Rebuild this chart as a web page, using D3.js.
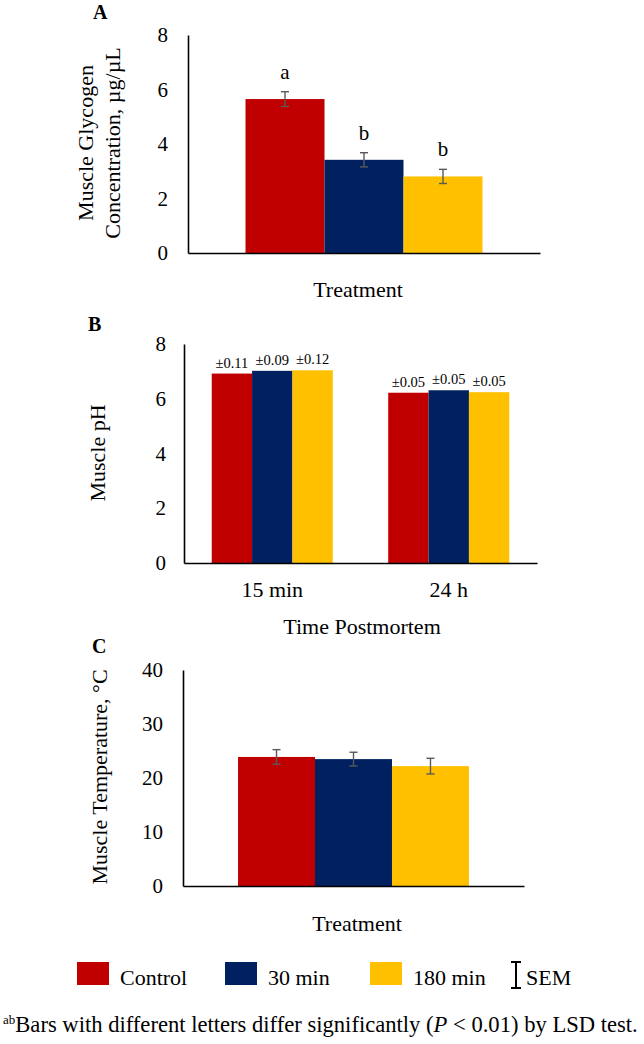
<!DOCTYPE html>
<html>
<head>
<meta charset="utf-8">
<script src="https://cdn.jsdelivr.net/npm/d3@7"></script>
<style>
  html, body { margin: 0; padding: 0; background: #fff; }
  svg { display: block; }
  svg text { font-family: "Liberation Serif", serif !important; }
</style>
</head>
<body>
<svg id="chart" width="644" height="1044" font-family="Liberation Serif"></svg>
<script>
// ---- data ----
const treatments = ["Control", "30 min", "180 min"];

// Panel A: muscle glycogen
const glycogenMean = [5.65, 3.42, 2.81];
const glycogenSEM = [0.27, 0.26, 0.26];
const glycogenLetters = ["a", "b", "b"];
const glycogenTicks = [0, 2, 4, 6, 8];

// Panel B: muscle pH
const phTimes = ["15 min", "24 h"];
const phControl = [6.92, 6.22];
const ph30min = [7.02, 6.31];
const ph180min = [7.04, 6.24];
const phSemControl = ["±0.11", "±0.05"];
const phSem30min = ["±0.09", "±0.05"];
const phSem180min = ["±0.12", "±0.05"];
const phTicks = [0, 2, 4, 6, 8];

// Panel C: muscle temperature
const tempMean = [23.9, 23.5, 22.2];
const tempSEM = [1.35, 1.27, 1.45];
const tempTicks = [0, 10, 20, 30, 40];

// ---- styles ----
const barColors = ["#C00000", "#002060", "#FFC000"];
const errColor = "#595959";
const FONT = "Liberation Serif";

const svg = d3.select("#chart");
const color = d3.scaleOrdinal().domain(treatments).range(barColors);

function yAxis(g, y, ticks, pad) {
  g.call(d3.axisLeft(y).tickValues(ticks).tickSize(0).tickSizeOuter(0).tickPadding(pad).tickFormat(d3.format("d")));
  g.attr("font-family", FONT);
  g.select(".domain").attr("stroke", "#000").attr("stroke-width", 1.6);
  g.selectAll("text").attr("font-size", 21).attr("fill", "#000").attr("font-family", FONT);
}
function xLine(parent, x0, x1, yPos) {
  const xs = d3.scaleLinear().domain([0, 1]).range([x0, x1]);
  const g = parent.append("g").attr("transform", `translate(0,${yPos})`)
    .call(d3.axisBottom(xs).tickValues([]).tickSize(0).tickSizeOuter(0));
  g.select(".domain").attr("stroke", "#000").attr("stroke-width", 1.6);
  return g;
}
function errorBars(parent, data, cx, y) {
  const g = parent.append("g").attr("stroke", errColor).attr("stroke-width", 1.4).attr("fill", "none");
  data.forEach(d => {
    const x = cx(d);
    g.append("line").attr("x1", x).attr("x2", x).attr("y1", y(d.v - d.e)).attr("y2", y(d.v + d.e));
    g.append("line").attr("x1", x - 4).attr("x2", x + 4).attr("y1", y(d.v - d.e)).attr("y2", y(d.v - d.e));
    g.append("line").attr("x1", x - 4).attr("x2", x + 4).attr("y1", y(d.v + d.e)).attr("y2", y(d.v + d.e));
  });
}
function txt(parent) {
  return parent.append("text").attr("font-family", FONT).attr("fill", "#000");
}
function panelLabel(t, x, yb) {
  txt(svg).attr("x", x).attr("y", yb).attr("font-size", 20).attr("font-weight", "bold").text(t);
}
function rotTitle(lines, xBase, yc, lh) {
  lines.forEach((t, i) => {
    txt(svg).attr("transform", `translate(${xBase + i * lh},${yc}) rotate(-90)`)
      .attr("text-anchor", "middle").attr("font-size", 22).text(t);
  });
}
function xTitle(t, xc, yb) {
  txt(svg).attr("x", xc).attr("y", yb).attr("text-anchor", "middle").attr("font-size", 22).text(t);
}

// ---------- Panel A ----------
{
  const L = 188, R = 540;
  const y = d3.scaleLinear().domain([0, 8]).range([253, 35]);
  const x = d3.scaleBand().domain(treatments).range([L, R]).paddingInner(0).paddingOuter(0.728);
  const data = treatments.map((t, i) => ({ t, v: glycogenMean[i], e: glycogenSEM[i], l: glycogenLetters[i] }));
  const g = svg.append("g");
  g.selectAll("rect").data(data).join("rect")
    .attr("x", d => x(d.t)).attr("width", x.bandwidth())
    .attr("y", d => y(d.v)).attr("height", d => y(0) - y(d.v))
    .attr("fill", d => color(d.t));
  errorBars(g, data, d => x(d.t) + x.bandwidth() / 2, y);
  g.selectAll("text.letter").data(data).join("text").attr("class", "letter")
    .attr("font-family", FONT)
    .attr("x", d => x(d.t) + x.bandwidth() / 2).attr("y", d => y(d.v + d.e) - 13)
    .attr("text-anchor", "middle").attr("font-size", 21).text(d => d.l);
  xLine(svg, L, R, y(0));
  svg.append("g").attr("transform", `translate(${L},0)`).call(a => yAxis(a, y, glycogenTicks, 20));
  panelLabel("A", 93, 19);
  rotTitle(["Muscle Glycogen", "Concentration, µg/µL"], 93, 143, 27);
  xTitle("Treatment", 358, 297);
}

// ---------- Panel B ----------
{
  const L = 184, R = 537;
  const y = d3.scaleLinear().domain([0, 8]).range([563, 344]);
  const x0 = d3.scaleBand().domain(phTimes).range([L, R]).paddingInner(0.314).paddingOuter(0.157);
  const x1 = d3.scaleBand().domain(treatments).range([0, x0.bandwidth()]).padding(0);
  const series = [phControl, ph30min, ph180min];
  const sems = [phSemControl, phSem30min, phSem180min];
  const data = [];
  phTimes.forEach((tm, j) => treatments.forEach((t, i) => data.push({ tm, t, v: series[i][j], s: sems[i][j] })));
  const g = svg.append("g");
  g.selectAll("rect").data(data).join("rect")
    .attr("x", d => x0(d.tm) + x1(d.t)).attr("width", x1.bandwidth())
    .attr("y", d => y(d.v)).attr("height", d => y(0) - y(d.v))
    .attr("fill", d => color(d.t));
  g.selectAll("text.sem").data(data).join("text").attr("class", "sem")
    .attr("font-family", FONT)
    .attr("x", d => x0(d.tm) + x1(d.t) + x1.bandwidth() / 2).attr("y", d => y(d.v) - 6)
    .attr("text-anchor", "middle").attr("font-size", 14.5).text(d => d.s);
  const xa = svg.append("g").attr("transform", `translate(0,${y(0)})`)
    .call(d3.axisBottom(x0).tickSize(0).tickSizeOuter(0).tickPadding(18));
  xa.attr("font-family", FONT);
  xa.select(".domain").attr("stroke", "#000").attr("stroke-width", 1.6);
  xa.selectAll("text").attr("font-size", 22).attr("fill", "#000").attr("font-family", FONT);
  svg.append("g").attr("transform", `translate(${L},0)`).call(a => yAxis(a, y, phTicks, 18));
  panelLabel("B", 88, 331);
  rotTitle(["Muscle pH"], 105, 453, 0);
  xTitle("Time Postmortem", 362, 634);
}

// ---------- Panel C ----------
{
  const L = 183, R = 524;
  const y = d3.scaleLinear().domain([0, 40]).range([886, 670]);
  const x = d3.scaleBand().domain(treatments).range([L, R]).paddingInner(0).paddingOuter(0.715);
  const data = treatments.map((t, i) => ({ t, v: tempMean[i], e: tempSEM[i] }));
  const g = svg.append("g");
  g.selectAll("rect").data(data).join("rect")
    .attr("x", d => x(d.t)).attr("width", x.bandwidth())
    .attr("y", d => y(d.v)).attr("height", d => y(0) - y(d.v))
    .attr("fill", d => color(d.t));
  errorBars(g, data, d => x(d.t) + x.bandwidth() / 2, y);
  xLine(svg, L, R, y(0));
  svg.append("g").attr("transform", `translate(${L},0)`).call(a => yAxis(a, y, tempTicks, 20));
  panelLabel("C", 92, 653);
  rotTitle(["Muscle Temperature, °C"], 107, 777, 0);
  xTitle("Treatment", 357, 931);
}

// ---------- Legend ----------
{
  const lx = d3.scaleOrdinal().domain(treatments).range([77, 225, 370]);
  const lg = svg.append("g");
  treatments.forEach(t => {
    lg.append("rect").attr("x", lx(t)).attr("y", 962).attr("width", 32).attr("height", 23).attr("fill", color(t));
    txt(lg).attr("x", lx(t) + 43).attr("y", 985).attr("font-size", 22).text(t);
  });
  const bx = 516;
  lg.append("path").attr("d", `M${bx - 5},962H${bx + 5}M${bx},962V988M${bx - 5},988H${bx + 5}`)
    .attr("stroke", "#000").attr("stroke-width", 2).attr("fill", "none");
  txt(lg).attr("x", 526).attr("y", 985).attr("font-size", 22).text("SEM");
}

// ---------- Footnote ----------
{
  const t = txt(svg).attr("x", 3).attr("y", 1032).attr("font-size", 22.6);
  t.append("tspan").attr("font-size", 13).attr("dy", -8).text("ab");
  t.append("tspan").attr("dy", 8).text("Bars with different letters differ significantly (");
  t.append("tspan").attr("font-style", "italic").text("P");
  t.append("tspan").text(" < 0.01) by LSD test.");
}
</script>
</body>
</html>
